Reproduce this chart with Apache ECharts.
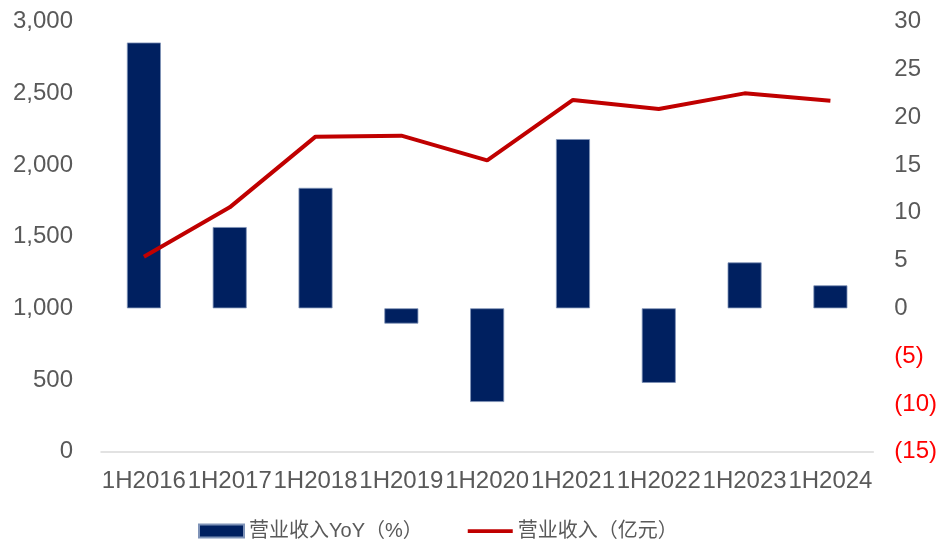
<!DOCTYPE html>
<html>
<head>
<meta charset="utf-8">
<script src="https://cdn.jsdelivr.net/npm/echarts@6/dist/echarts.min.js"></script>
<style>
  html, body { margin: 0; padding: 0; background: #fff; }
  #chart { width: 940px; height: 542px; }
</style>
</head>
<body>
<div id="chart"></div>
<script>
const categories = ["1H2016", "1H2017", "1H2018", "1H2019", "1H2020", "1H2021", "1H2022", "1H2023", "1H2024"];
// 营业收入YoY（%），右轴
const yoyValues = [27.8, 8.5, 12.6, -1.6, -9.8, 17.7, -7.8, 4.8, 2.4];
// 营业收入（亿元），左轴
const revenueValues = [1360, 1704, 2197, 2204, 2032, 2453, 2390, 2499, 2448];

const fontFamily = "'Liberation Sans', Arial, 'Noto Sans CJK SC', sans-serif";

const chart = echarts.init(document.getElementById("chart"));

const option = {
  animation: false,
  textStyle: { fontFamily: fontFamily },
  grid: {
    left: 101,
    right: 64,
    top: 21.5,
    bottom: 90.3,
  },
  legend: {
    left: 198,
    top: 521,
    padding: 0,
    itemWidth: 45,
    itemHeight: 13,
    itemGap: 45,
    textStyle: { fontSize: 20, color: "#595959", fontFamily: fontFamily },
    data: [
      { name: "营业收入YoY（%）", icon: "rect" },
      { name: "营业收入（亿元）", icon: "path://M0,0h48v4h-48z" },
    ],
  },
  xAxis: {
    type: "category",
    data: categories,
    axisLine: { show: true, lineStyle: { color: "#d9d9d9", width: 1.5 } },
    axisTick: { show: false },
    axisLabel: {
      interval: 0,
      margin: 18,
      fontSize: 24,
      color: "#595959",
      fontFamily: fontFamily,
    },
  },
  yAxis: [
    {
      type: "value",
      min: 0,
      max: 3000,
      interval: 500,
      splitLine: { show: false },
      axisLine: { show: false },
      axisTick: { show: false },
      axisLabel: {
        margin: 28,
        fontSize: 24,
        color: "#595959",
        fontFamily: fontFamily,
        formatter: (v) => v.toLocaleString("en-US"),
      },
    },
    {
      type: "value",
      min: -15,
      max: 30,
      interval: 5,
      splitLine: { show: false },
      axisLine: { show: false },
      axisTick: { show: false },
      axisLabel: {
        margin: 21,
        fontSize: 24,
        fontFamily: fontFamily,
        color: (v) => (Number(v) < 0 ? "#ff0000" : "#595959"),
        formatter: (v) => (v < 0 ? "(" + -v + ")" : String(v)),
      },
    },
  ],
  series: [
    {
      name: "营业收入YoY（%）",
      type: "bar",
      yAxisIndex: 1,
      barWidth: 34,
      data: yoyValues,
      itemStyle: {
        color: "#002060",
        borderColor: "#7f93b8",
        borderWidth: 0.8,
      },
    },
    {
      name: "营业收入（亿元）",
      type: "line",
      yAxisIndex: 0,
      data: revenueValues,
      symbol: "none",
      lineStyle: { color: "#c00000", width: 4 },
      itemStyle: { color: "#c00000" },
    },
  ],
};

chart.setOption(option);
</script>
</body>
</html>
